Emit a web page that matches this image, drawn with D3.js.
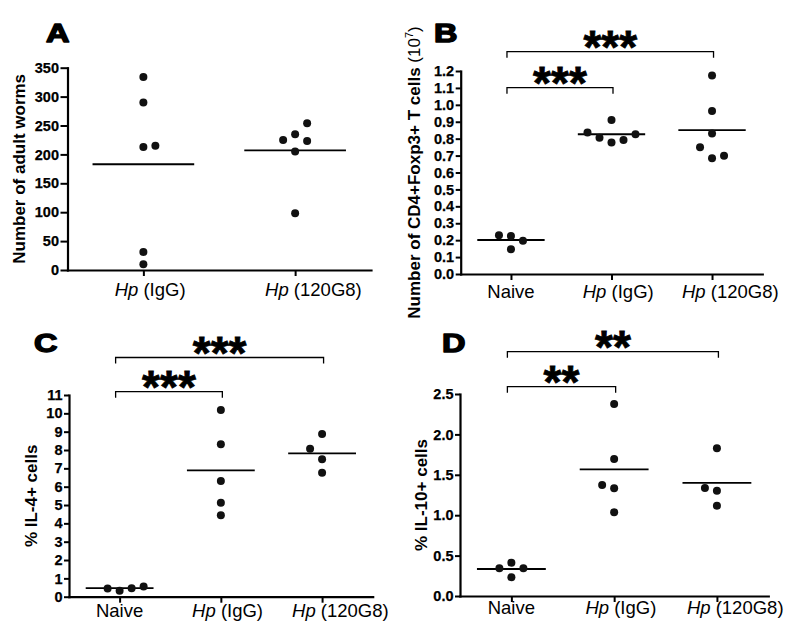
<!DOCTYPE html>
<html><head><meta charset="utf-8">
<script src="https://cdn.jsdelivr.net/npm/d3@7"></script>
<style>
body{margin:0;background:#fff}
svg{display:block}
text{font-family:"Liberation Sans",Arial,Helvetica,sans-serif;fill:#000}
</style>
</head><body>
<svg id="chart" width="800" height="634"></svg>
<script>
// ---------- data ----------
const groupsA = ["Hp (IgG)", "Hp (120G8)"];
const groups3 = ["Naive", "Hp (IgG)", "Hp (120G8)"];

const wormsIgG   = [334, 290, 213, 215, 31, 10];
const worms120G8 = [223, 235, 254, 225, 205, 98];
const wormsMean  = [183, 207];

const tregNaive = [0.229, 0.225, 0.197, 0.146];
const tregIgG   = [0.837, 0.806, 0.778, 0.910, 0.792, 0.826];
const treg120G8 = [1.174, 0.963, 0.831, 0.749, 0.684, 0.699];
const tregMean  = [0.201, 0.826, 0.851];

const il4Naive = [0.45, 0.33, 0.46, 0.55];
const il4IgG   = [10.18, 8.31, 6.31, 5.13, 4.44];
const il4G8    = [8.87, 8.07, 7.49, 6.76];
const il4Mean  = [0.47, 6.89, 7.82];

const il10Naive = [0.342, 0.413, 0.343, 0.231];
const il10IgG   = [2.376, 1.696, 1.374, 1.333, 1.035];
const il10G8    = [1.828, 1.337, 1.304, 1.118];
const il10Mean  = [0.334, 1.568, 1.399];

const ticksA = [0, 50, 100, 150, 200, 250, 300, 350];
const ticksB = [0, 0.1, 0.2, 0.3, 0.4, 0.5, 0.6, 0.7, 0.8, 0.9, 1.0, 1.1, 1.2];
const ticksC = [0, 1, 2, 3, 4, 5, 6, 7, 8, 9, 10, 11];
const ticksD = [0, 0.5, 1.0, 1.5, 2.0, 2.5];

const sigB = [["Naive", "Hp (IgG)", "***"], ["Naive", "Hp (120G8)", "***"]];
const sigC = [["Naive", "Hp (IgG)", "***"], ["Naive", "Hp (120G8)", "***"]];
const sigD = [["Naive", "Hp (IgG)", "**"], ["Naive", "Hp (120G8)", "**"]];

// ---------- layout ----------
const SLOTS_R = [0, 1, -1, 2, -2, 3, -3];
const SLOTS_L = [0, -1, 1, 2, -2, 3, -3];
const panels = [
  {letter:"A", groups:groupsA, series:[wormsIgG, worms120G8], means:wormsMean, ticks:ticksA, fmt:d3.format("d"),
   x0:67.5, x1:371, yTop:67.7, yBot:270, tickSize:7, lx:46, ly:41.7, titleX:25, slots:SLOTS_R,
   title:[{t:"Number of adult worms", w:"bold"}], xlab:296, sig:[], brY:[]},
  {letter:"B", groups:groups3, series:[tregNaive, tregIgG, treg120G8], means:tregMean, ticks:ticksB, fmt:d3.format(".1f"),
   x0:460.7, x1:762.3, yTop:71, yBot:274, tickSize:5, lx:434, ly:41.7, titleX:420, slots:SLOTS_R,
   title:[{t:"Number of CD4+Foxp3+ T cells ", w:"bold"}, {t:"(10", w:"normal"}, {t:"7", w:"normal", sup:true}, {t:")", w:"normal", after:true}],
   xlab:297.5, sig:sigB, brY:[87.7, 51.7]},
  {letter:"C", groups:groups3, series:[il4Naive, il4IgG, il4G8], means:il4Mean, ticks:ticksC, fmt:d3.format("d"),
   x0:69, x1:372.7, yTop:395, yBot:596.7, tickSize:5, lx:34, ly:351.7, titleX:36.7, slots:SLOTS_L,
   title:[{t:"% IL-4+ cells", w:"bold"}], xlab:616.5, sig:sigC, brY:[391.7, 357.5]},
  {letter:"D", groups:groups3, series:[il10Naive, il10IgG, il10G8], means:il10Mean, ticks:ticksD, fmt:d3.format(".1f"),
   x0:460, x1:768.3, yTop:394, yBot:596, tickSize:5, lx:442, ly:351.7, titleX:426.7, slots:SLOTS_L,
   title:[{t:"% IL-10+ cells", w:"bold"}], xlab:614, sig:sigD, brY:[386.7, 351.7]}
];

const svg = d3.select("#chart");
const SLOT = 12, COLL = 11.9, R = 4;

function swarm(values, y, order) {
  const placed = [];
  const sorted = values.slice().sort((a, b) => a - b);
  sorted.forEach(v => {
    const py = y(v);
    for (const k of order) {
      if (!placed.some(p => p.k === k && Math.abs(p.py - py) < COLL)) {
        placed.push({v, py, k});
        break;
      }
    }
  });
  return placed;
}

panels.forEach(P => {
  const g = svg.append("g");
  const x = d3.scalePoint().domain(P.groups).range([P.x0, P.x1]).padding(0.5);
  const y = d3.scaleLinear().domain([0, d3.max(P.ticks)]).range([P.yBot, P.yTop]);
  const step = x.step();

  // y axis
  const ya = g.append("g").attr("transform", `translate(${P.x0},0)`)
    .call(d3.axisLeft(y).tickValues(P.ticks).tickFormat(P.fmt).tickSize(P.tickSize).tickSizeOuter(0).tickPadding(1.5));
  // x axis
  const xa = g.append("g").attr("transform", `translate(0,${P.yBot})`)
    .call(d3.axisBottom(x).tickSize(6).tickSizeOuter(0).tickFormat(""));
  [ya, xa].forEach(a => {
    a.select(".domain").attr("stroke", "#000").attr("stroke-width", 2.2).attr("stroke-linecap", "square");
    a.selectAll(".tick line").attr("stroke", "#000").attr("stroke-width", 2);
  });
  ya.selectAll(".tick text").attr("font-size", 14.5).attr("font-weight", "bold")
    .attr("font-family", '"Liberation Sans",Arial,sans-serif').attr("fill", "#000")
    .attr("stroke", "#000").attr("stroke-width", 0.25);

  // x labels
  P.groups.forEach(name => {
    const t = g.append("text").attr("x", x(name)).attr("y", P.xlab)
      .attr("text-anchor", "middle").attr("font-size", 18.5);
    if (name.startsWith("Hp")) {
      t.append("tspan").attr("font-style", "italic").text("Hp");
      t.append("tspan").text(name.slice(2));
      const w = t.node().getComputedTextLength();
      t.attr("x", x(name) + Math.max(0, (w - 56) * 0.45));
    } else {
      t.text(name);
    }
  });

  // y title
  const tt = g.append("text")
    .attr("transform", `translate(${P.titleX},${(P.yTop + P.yBot) / 2}) rotate(-90)`)
    .attr("text-anchor", "middle").attr("font-size", 17);
  P.title.forEach(s => {
    const sp = tt.append("tspan").attr("font-weight", s.w).text(s.t);
    if (s.sup) sp.attr("font-size", 11).attr("dy", -7);
    if (s.after) sp.attr("dy", 7);
  });

  // panel letter
  g.append("text").attr("transform", `translate(${P.lx},${P.ly}) scale(1.3,1)`)
    .attr("font-size", 25).attr("font-weight", "bold")
    .attr("stroke", "#000").attr("stroke-width", 1.4).attr("stroke-linejoin", "round").text(P.letter);

  // mean lines
  P.groups.forEach((name, i) => {
    g.append("line")
      .attr("x1", x(name) - 0.335 * step).attr("x2", x(name) + 0.335 * step)
      .attr("y1", y(P.means[i])).attr("y2", y(P.means[i]))
      .attr("stroke", "#000").attr("stroke-width", 1.8);
  });

  // dots
  P.groups.forEach((name, i) => {
    g.selectAll(null).data(swarm(P.series[i], y, P.slots)).enter().append("circle")
      .attr("cx", d => x(name) + d.k * SLOT).attr("cy", d => d.py).attr("r", R)
      .attr("fill", "#111");
  });

  // significance brackets
  P.sig.forEach((s, i) => {
    const by = P.brY[i];
    const xl = x(s[0]) - 4, xr = x(s[1]) + 1.5;
    g.append("path").attr("d", `M${xl},${by + 6}V${by}H${xr}V${by + 6}`)
      .attr("fill", "none").attr("stroke", "#000").attr("stroke-width", 1.3);
    g.append("text").attr("x", (xl + xr) / 2).attr("y", by + 11)
      .attr("text-anchor", "middle").attr("font-size", 46).attr("font-weight", "bold")
      .attr("stroke", "#000").attr("stroke-width", 0.8).text(s[2]);
  });
});
</script>
</body></html>
